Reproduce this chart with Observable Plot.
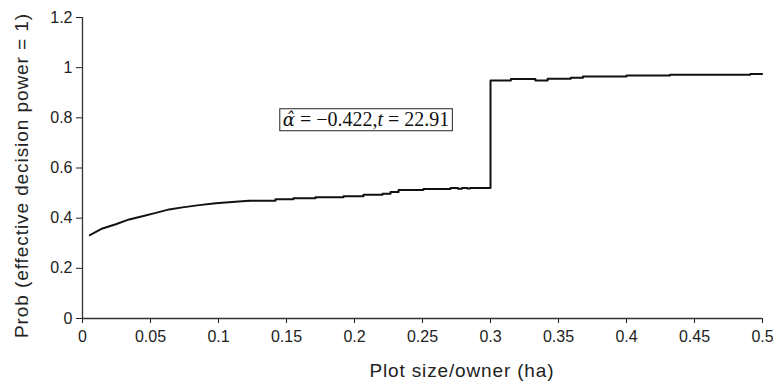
<!DOCTYPE html>
<html><head><meta charset="utf-8">
<script src="https://cdn.jsdelivr.net/npm/d3@7"></script>
<script src="https://cdn.jsdelivr.net/npm/@observablehq/plot@0.6"></script>
<style>body{margin:0;background:#fff}</style>
</head><body><div id="chart"></div>
<script>
// Smooth early part of the curve
const smoothX = [0.0054, 0.0147, 0.0245, 0.0343, 0.0441, 0.0539, 0.0637, 0.0735, 0.0858, 0.098, 0.110, 0.1226];
const smoothY = [0.332, 0.359, 0.376, 0.395, 0.408, 0.421, 0.435, 0.443, 0.452, 0.459, 0.464, 0.469];
// Stepped remainder of the curve
const stepX = [0.1226, 0.1419, 0.1551, 0.1713, 0.1919, 0.2066, 0.2206, 0.2265, 0.2324, 0.2507, 0.2706, 0.276, 0.279, 0.283, 0.285, 0.3, 0.315, 0.333, 0.342, 0.359, 0.368, 0.4, 0.432, 0.491, 0.4997];
const stepY = [0.469, 0.475, 0.479, 0.483, 0.487, 0.493, 0.497, 0.504, 0.512, 0.516, 0.52, 0.517, 0.52, 0.518, 0.52, 0.949, 0.955, 0.949, 0.956, 0.96, 0.965, 0.969, 0.972, 0.975, 0.975];
const xTicks = [0, 0.05, 0.1, 0.15, 0.2, 0.25, 0.3, 0.35, 0.4, 0.45, 0.5];
const yTicks = [0, 0.2, 0.4, 0.6, 0.8, 1, 1.2];
const xLabel = "Plot size/owner (ha)";
const yLabel = "Prob (effective decision power = 1)";
const annotation = [{x: 0.2085, y: 0.794, text: "α̂ = −0.422,t = 22.91"}];

const smooth = smoothX.map((x, i) => ({x, y: smoothY[i]}));
const steps = stepX.map((x, i) => ({x, y: stepY[i]}));

const svg = Plot.plot({
  width: 773, height: 385,
  marginLeft: 82, marginRight: 11, marginTop: 17, marginBottom: 67,
  style: {fontFamily: "'Liberation Sans', Arial, sans-serif", fontSize: "16px", color: "#222", background: "#fff"},
  x: {domain: [0, 0.5], ticks: xTicks, tickFormat: d => String(d), tickSize: 5, tickPadding: 7, label: null},
  y: {domain: [0, 1.2], ticks: yTicks, tickFormat: d => String(d), tickSize: 6, tickPadding: 4, label: null},
  marks: [
    Plot.ruleY([0], {stroke: "#333", strokeWidth: 1.3}),
    Plot.ruleX([0], {stroke: "#333", strokeWidth: 1.3}),
    Plot.line(smooth, {x: "x", y: "y", stroke: "#111", strokeWidth: 2}),
    Plot.line(steps, {x: "x", y: "y", curve: "step-after", stroke: "#111", strokeWidth: 2}),
    Plot.text(annotation, {x: "x", y: "y", text: "text", fontFamily: "'Liberation Serif', 'Times New Roman', serif", fontSize: 20, fill: "#111"}),
    Plot.text([xLabel], {frameAnchor: "bottom", dx: 39, dy: 58, fontSize: 19, fill: "#222"}),
    Plot.text([yLabel], {frameAnchor: "left", textAnchor: "middle", rotate: -90, dx: -61, dy: 8, fontSize: 19, fill: "#222"})
  ]
});
document.getElementById("chart").appendChild(svg);

const NS = "http://www.w3.org/2000/svg";
const texts = Array.from(svg.querySelectorAll("text"));
// Letter spacing of the axis titles as in the reference
const xl = texts.find(e => e.textContent === xLabel);
if (xl) { xl.setAttribute("textLength", 184); xl.setAttribute("lengthAdjust", "spacing"); }
const yl = texts.find(e => e.textContent === yLabel);
if (yl) { yl.setAttribute("textLength", 324); yl.setAttribute("lengthAdjust", "spacing"); }

// Style annotation: italic symbols, hat over alpha, and a frame around it
const t = texts.find(e => e.textContent.startsWith("α"));
if (t) {
  t.textContent = "";
  const add = (s, attrs) => {
    const ts = document.createElementNS(NS, "tspan");
    ts.textContent = s;
    for (const k in attrs) ts.setAttribute(k, attrs[k]);
    t.appendChild(ts);
    return ts;
  };
  add("α̂", {"font-style": "italic", "font-family": "'DejaVu Serif', serif", "font-size": 18});
  add(" = −0.422,", {});
  add("t", {"font-style": "italic"});
  add(" = 22.91", {});
  const b = t.getBBox();
  const r = document.createElementNS(NS, "rect");
  r.setAttribute("x", b.x - 3);
  r.setAttribute("y", b.y + 1);
  r.setAttribute("width", b.width + 6);
  r.setAttribute("height", b.height);
  r.setAttribute("fill", "#fff");
  r.setAttribute("stroke", "#222");
  r.setAttribute("stroke-width", 1);
  if (t.getAttribute("transform")) r.setAttribute("transform", t.getAttribute("transform"));
  t.parentNode.insertBefore(r, t);
}
</script>
</body></html>
